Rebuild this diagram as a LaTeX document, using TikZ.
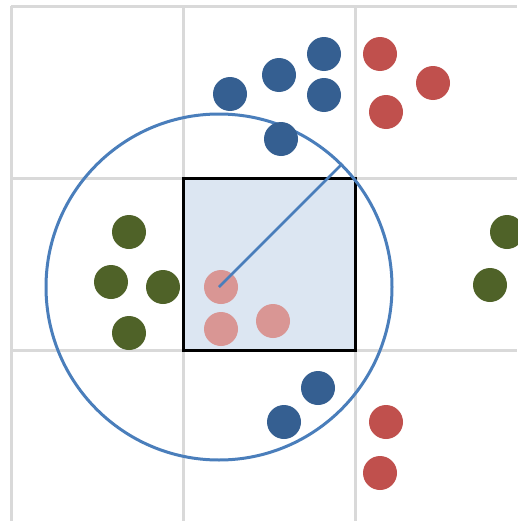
\documentclass[tikz,border=0pt]{standalone}
\usepackage{tikz}
\definecolor{gridgray}{HTML}{D9D9D9}
\definecolor{cellfill}{HTML}{DCE6F2}
\definecolor{ringblue}{HTML}{4A7EBB}
\definecolor{dotblue}{HTML}{355F91}
\definecolor{dotred}{HTML}{C0504D}
\definecolor{dotgreen}{HTML}{4F6228}
\definecolor{dotpink}{HTML}{D99694}
\tikzset{
  dot/.style={circle,inner sep=0pt,minimum size=34pt},
  bluedot/.style={dot,fill=dotblue},
  reddot/.style={dot,fill=dotred},
  greendot/.style={dot,fill=dotgreen},
  pinkdot/.style={dot,fill=dotpink},
  gridline/.style={gridgray,line width=3pt},
  ring/.style={ringblue,line width=3pt}
}
\begin{document}
\begin{tikzpicture}[x=1pt,y=-1pt]
\useasboundingbox (0,0) rectangle (517,522);
% grid
\draw[gridline] (11,6) -- (517,6);
\draw[gridline] (11,178) -- (517,178);
\draw[gridline] (11,350) -- (517,350);
\draw[gridline] (11,6) -- (11,521);
\draw[gridline] (183,6) -- (183,521);
\draw[gridline] (355,6) -- (355,521);
% query cell
\draw[fill=cellfill,line width=3pt] (183,178) rectangle (355,350);
% search radius
\coordinate (c) at (219,287);
\coordinate (e) at (341,165);
\draw[ring] (c) circle (173);
% points
\node[bluedot] (b1) at (230,94) {};
\node[bluedot] (b2) at (279,75) {};
\node[bluedot] (b3) at (324,54) {};
\node[bluedot] (b4) at (324,95) {};
\node[bluedot] (b5) at (281,139) {};
\node[bluedot] (b6) at (318,388) {};
\node[bluedot] (b7) at (284,422) {};
\node[reddot] (r1) at (380,54) {};
\node[reddot] (r2) at (433,83) {};
\node[reddot] (r3) at (386,112) {};
\node[reddot] (r4) at (386,422) {};
\node[reddot] (r5) at (380,473) {};
\node[greendot] (g1) at (129,232) {};
\node[greendot] (g2) at (111,282) {};
\node[greendot] (g3) at (163,287) {};
\node[greendot] (g4) at (129,333) {};
\node[greendot] (g5) at (507,232) {};
\node[greendot] (g6) at (490,285) {};
\node[pinkdot] (p1) at (221,287) {};
\node[pinkdot] (p2) at (221,329) {};
\node[pinkdot] (p3) at (273,321) {};
\draw[ringblue,line width=2.6pt] (c) -- (e);
\end{tikzpicture}
\end{document}
